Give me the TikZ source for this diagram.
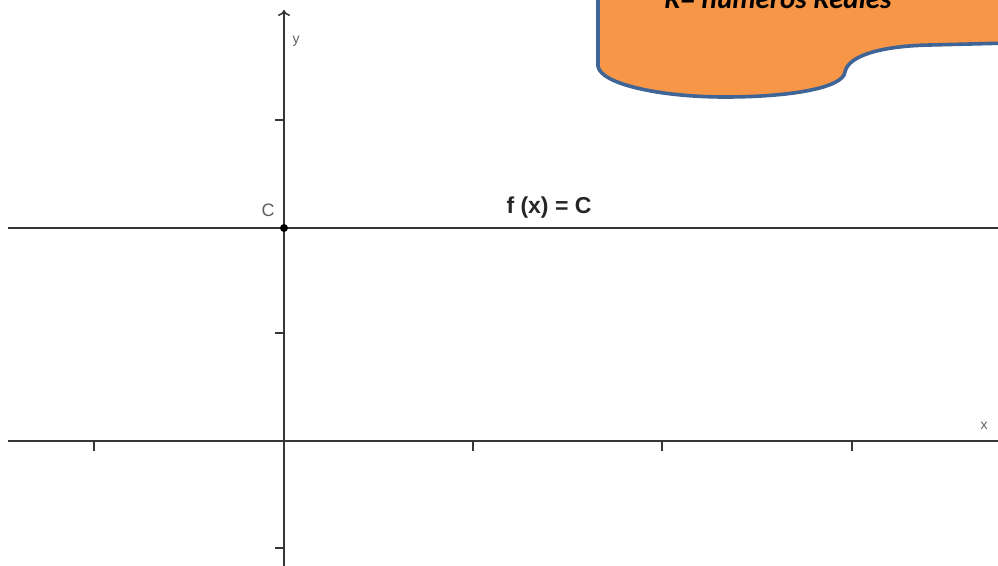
\documentclass[tikz,border=0pt]{standalone}
\usepackage{fontspec}
\setmainfont{Liberation Sans}
\newfontfamily\calibri{Carlito}
\usetikzlibrary{arrows.meta}
\definecolor{axisgray}{HTML}{363636}
\definecolor{waveorange}{HTML}{F79646}
\definecolor{waveblue}{HTML}{3F6496}
\begin{document}
\begin{tikzpicture}[x=1pt,y=-1pt,
  axisline/.style={draw=axisgray,line width=2.4pt},
  tickmark/.style={draw=axisgray,line width=1.8pt},
  axlabel/.style={font=\fontsize{14}{14}\selectfont,text=axisgray!80,inner sep=0pt}]
\useasboundingbox (0,0) rectangle (998,565);
\clip (0,0) rectangle (998,565);
% wave shape
\draw[fill=waveorange,draw=waveblue,line width=3.6pt]
  (598,-10) -- (598,66) .. controls (600,84) and (660,97) .. (725,97)
  .. controls (790,97) and (843,88) .. (845,72)
  .. controls (848,56) and (880,46) .. (930,45) -- (1010,43) -- (1010,-10) -- cycle;
\node[font=\calibri\bfseries\itshape\fontsize{29}{29}\selectfont,anchor=base,inner sep=0pt] (title) at (778,8) {R= números Reales};
% coordinates
\coordinate (xl) at (8,441);
\coordinate (xr) at (1000,441);
\coordinate (yb) at (284,570);
\coordinate (yt) at (284,10);
\coordinate (hl) at (8,228);
\coordinate (hr) at (1000,228);
% axes
\draw[axisline] (xl) -- (xr);
\draw[axisline,-{To[length=6pt,width=12pt,line width=1.6pt]}] (yb) -- (yt);
\draw[axisline] (hl) -- (hr);
% ticks
\foreach \t in {94,473,662,852} \draw[tickmark] (\t,441) -- (\t,451);
\foreach \t in {120,333,548} \draw[tickmark] (284,\t) -- (275,\t);
% point
\node[circle,fill=black,inner sep=0pt,minimum size=8pt] (cpt) at (284,228) {};
\node[axlabel,font=\fontsize{18}{18}\selectfont] (clab) at (268,210) {C};
\node[axlabel] (ylab) at (296,41) {y};
\node[axlabel] (xlab) at (984,426) {x};
\node[font=\bfseries\fontsize{23}{23}\selectfont,text=black!85,inner sep=0pt] (flab) at (549,208) {f (x) = C};
\end{tikzpicture}
\end{document}
